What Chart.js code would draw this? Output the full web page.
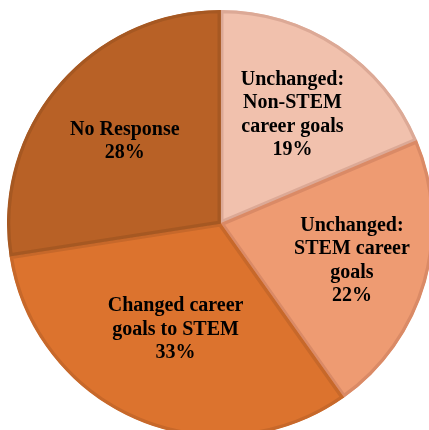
<!DOCTYPE html>
<html>
<head>
<meta charset="utf-8">
<script src="https://cdn.jsdelivr.net/npm/chart.js@4/dist/chart.umd.min.js"></script>
<style>
  html, body { margin: 0; padding: 0; background: #fff; overflow: hidden; width: 429px; height: 430px; }
  .wrap { position: absolute; left: 7px; top: 10px; width: 427px; height: 427px; }
</style>
</head>
<body>
<div class="wrap"><canvas id="myChart"></canvas></div>
<script>
const categories = [
  ["Unchanged:", "Non-STEM", "career goals"],
  ["Unchanged:", "STEM career", "goals"],
  ["Changed career", "goals to STEM"],
  ["No Response"]
];
const values = [19, 22, 33, 28];
const fillColors = ["#f1c1ad", "#ee9b72", "#dc732e", "#b86126"];
const edgeColors = ["#dca996", "#da8a66", "#c7682a", "#a65822"];

// draws the multi-line labels inside each slice
const sliceLabels = {
  id: "sliceLabels",
  afterDatasetsDraw(chart, args, opts) {
    const ctx = chart.ctx;
    const meta = chart.getDatasetMeta(0);
    ctx.save();
    ctx.font = "bold 20px 'Liberation Serif', 'Times New Roman', serif";
    ctx.fillStyle = "#000";
    ctx.textAlign = "center";
    ctx.textBaseline = "middle";
    meta.data.forEach((arc, i) => {
      const p = arc.getProps(["x", "y", "startAngle", "endAngle", "outerRadius"]);
      const mid = (p.startAngle + p.endAngle) / 2;
      const r = p.outerRadius * opts.radius[i];
      const cx = p.x + Math.cos(mid) * r;
      const cy = p.y + Math.sin(mid) * r;
      const lines = categories[i].concat([values[i] + "%"]);
      const lh = 23.5;
      const top = cy - (lines.length - 1) * lh / 2;
      lines.forEach((t, j) => ctx.fillText(t, cx, top + j * lh));
    });
    ctx.restore();
  }
};

const ctx = document.getElementById("myChart");

new Chart(ctx, {
  type: "pie",
  data: {
    labels: categories.map((c) => c.join(" ")),
    datasets: [
      {
        data: values,
        backgroundColor: fillColors,
        borderColor: edgeColors,
        borderWidth: 3,
        borderAlign: "inner",
      },
    ],
  },
  options: {
    responsive: true,
    maintainAspectRatio: false,
    animation: false,
    layout: { padding: 0 },
    plugins: {
      legend: { display: false },
      tooltip: { enabled: false },
      sliceLabels: { radius: [0.61, 0.64, 0.54, 0.59] },
    },
  },
  plugins: [sliceLabels],
});
</script>
</body>
</html>
